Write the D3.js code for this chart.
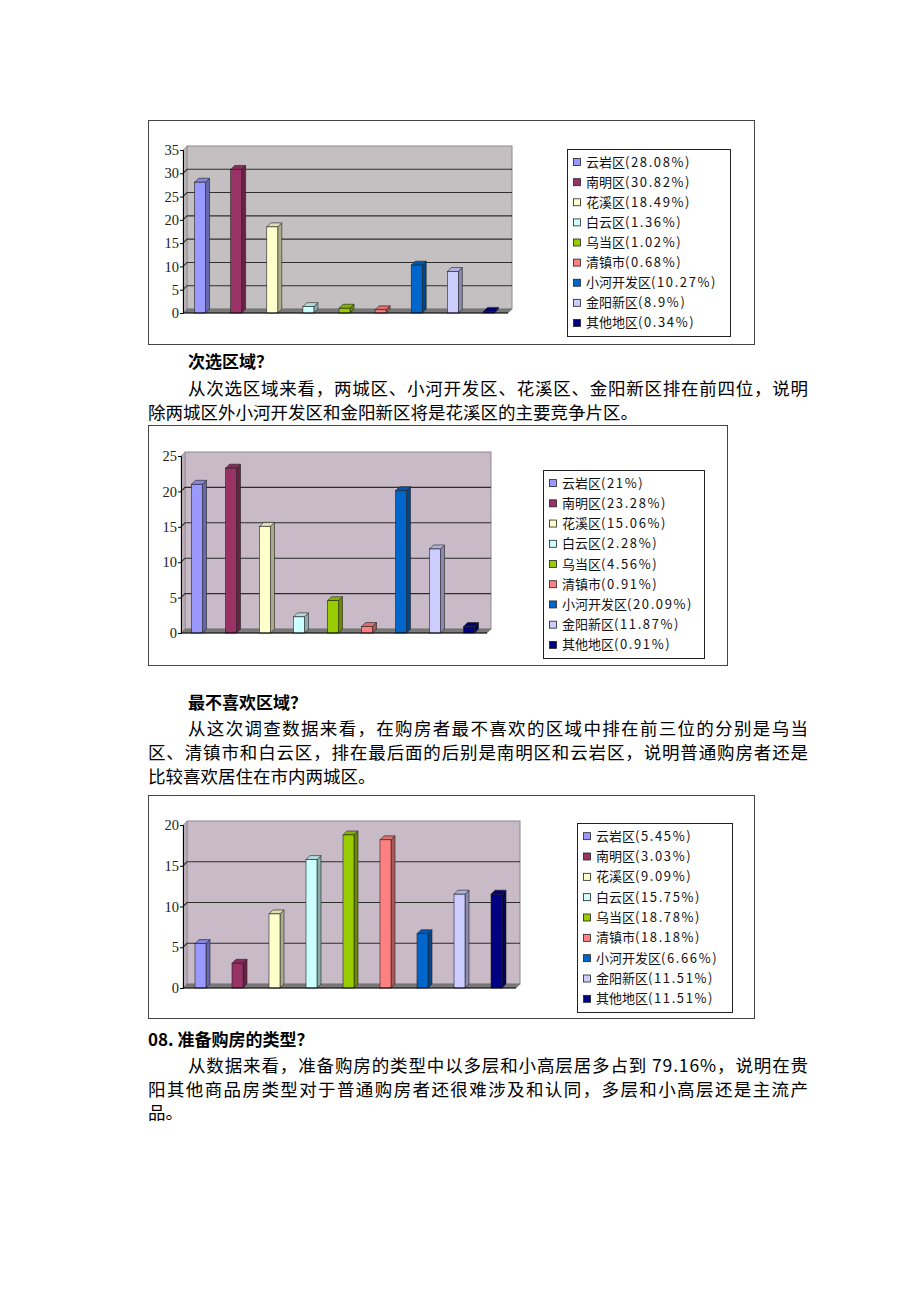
<!DOCTYPE html>
<html>
<head>
<meta charset="utf-8">
<script src="https://cdn.jsdelivr.net/npm/d3@7/dist/d3.min.js"></script>
<style>
  body { margin: 0; background: #fff; }
  svg text { font-family: "Noto Sans CJK SC", sans-serif; }
  .tick text { font-family: "Liberation Serif", serif; font-size: 14.5px; fill: #222; }
</style>
</head>
<body>
<svg id="page" width="920" height="1302"></svg>
<script>
// district names
var districts = ["云岩区", "南明区", "花溪区", "白云区", "乌当区", "清镇市", "小河开发区", "金阳新区", "其他地区"];

// first choice, second choice, least liked (%)
var firstChoice = [28.08, 30.82, 18.49, 1.36, 1.02, 0.68, 10.27, 8.9, 0.34];
var secondChoice = [21, 23.28, 15.06, 2.28, 4.56, 0.91, 20.09, 11.87, 0.91];
var leastLiked = [5.45, 3.03, 9.09, 15.75, 18.78, 18.18, 6.66, 11.51, 11.51];

var firstLabels = ["28.08%", "30.82%", "18.49%", "1.36%", "1.02%", "0.68%", "10.27%", "8.9%", "0.34%"];
var secondLabels = ["21%", "23.28%", "15.06%", "2.28%", "4.56%", "0.91%", "20.09%", "11.87%", "0.91%"];
var leastLabels = ["5.45%", "3.03%", "9.09%", "15.75%", "18.78%", "18.18%", "6.66%", "11.51%", "11.51%"];

var palette = ["#9999ff", "#993366", "#ffffcc", "#ccffff", "#99cc00", "#ff8080", "#0066cc", "#ccccff", "#000080"];

var svg = d3.select("#page");

// draw one excel style 3d column chart
function columnChart(opt, values, labels) {
    var g = svg.append("g");
    var dx = 4, dy = 4;

    // outer frame
    g.append("rect")
        .attr("x", opt.frame[0] + 0.5).attr("y", opt.frame[1] + 0.5)
        .attr("width", opt.frame[2]).attr("height", opt.frame[3])
        .attr("fill", "#fff").attr("stroke", "#444");

    var y = d3.scaleLinear().domain([0, opt.max]).range([opt.y0, opt.yTop]);
    var x = d3.scaleBand().domain(districts).range([opt.x0, opt.right]);

    // back wall
    g.append("rect")
        .attr("x", opt.x0 + dx).attr("y", opt.yTop - dy)
        .attr("width", opt.right - opt.x0).attr("height", opt.y0 - opt.yTop)
        .attr("fill", opt.bg).attr("stroke", "#8a8a8a");

    // left wall
    g.append("path")
        .attr("d", "M" + opt.x0 + "," + opt.y0 + "L" + opt.x0 + "," + opt.yTop +
            "L" + (opt.x0 + dx) + "," + (opt.yTop - dy) + "L" + (opt.x0 + dx) + "," + (opt.y0 - dy) + "Z")
        .attr("fill", d3.color(opt.bg).darker(0.2)).attr("stroke", "#8a8a8a").attr("stroke-width", 0.6);

    // gridlines on the wall
    var ticks = d3.range(opt.step, opt.max, opt.step);
    g.selectAll(".grid").data(ticks).enter().append("path")
        .attr("d", function (d) {
            return "M" + opt.x0 + "," + y(d) + "L" + (opt.x0 + dx) + "," + (y(d) - dy) +
                "L" + (opt.right + dx) + "," + (y(d) - dy);
        })
        .attr("fill", "none").attr("stroke", "#2e2e2e").attr("stroke-width", 1.1);

    // floor
    g.append("path")
        .attr("d", "M" + opt.x0 + "," + opt.y0 + "L" + opt.right + "," + opt.y0 +
            "L" + (opt.right + dx) + "," + (opt.y0 - dy) + "L" + (opt.x0 + dx) + "," + (opt.y0 - dy) + "Z")
        .attr("fill", "#7a7a7a").attr("stroke", "#666").attr("stroke-width", 0.5);

    // bars
    var bw = 11;
    values.forEach(function (v, i) {
        var cx = x(districts[i]) + x.bandwidth() / 2;
        var bx = cx - (bw + dx) / 2 + 1;
        var top = y(v);
        var c = palette[i];
        // side
        g.append("path")
            .attr("d", "M" + (bx + bw) + "," + opt.y0 + "L" + (bx + bw) + "," + top +
                "L" + (bx + bw + dx) + "," + (top - dy) + "L" + (bx + bw + dx) + "," + (opt.y0 - dy) + "Z")
            .attr("fill", d3.color(c).darker(1.1)).attr("stroke", "#222").attr("stroke-width", 0.6);
        // top
        g.append("path")
            .attr("d", "M" + bx + "," + top + "L" + (bx + bw) + "," + top +
                "L" + (bx + bw + dx) + "," + (top - dy) + "L" + (bx + dx) + "," + (top - dy) + "Z")
            .attr("fill", d3.color(c).darker(0.4)).attr("stroke", "#222").attr("stroke-width", 0.6);
        // front
        g.append("rect")
            .attr("x", bx).attr("y", top)
            .attr("width", bw).attr("height", opt.y0 - top)
            .attr("fill", c).attr("stroke", "#222").attr("stroke-width", 0.6);
    });

    // axes
    var axis = g.append("g")
        .attr("transform", "translate(" + opt.x0 + ",0)")
        .call(d3.axisLeft(y).tickValues(d3.range(0, opt.max + 1, opt.step)).tickSize(3).tickPadding(1));
    axis.select(".domain").attr("stroke", "#000");
    axis.selectAll(".tick line").attr("stroke", "#000");
    g.append("line")
        .attr("x1", opt.x0).attr("x2", opt.right)
        .attr("y1", opt.y0).attr("y2", opt.y0)
        .attr("stroke", "#000");

    // legend
    var lg = g.append("g");
    lg.append("rect")
        .attr("x", opt.legend[0] + 0.5).attr("y", opt.legend[1] + 0.5)
        .attr("width", opt.legend[2]).attr("height", opt.legend[3])
        .attr("fill", "#fff").attr("stroke", "#222");
    var rowH = (opt.legend[3] - 6) / districts.length;
    districts.forEach(function (d, i) {
        var ry = opt.legend[1] + 3 + rowH * (i + 0.5);
        lg.append("rect")
            .attr("x", opt.legend[0] + 6.5).attr("y", ry - 3.5)
            .attr("width", 7).attr("height", 7)
            .attr("fill", palette[i]).attr("stroke", "#222").attr("stroke-width", 0.8);
        var t = lg.append("text")
            .attr("x", opt.legend[0] + 19).attr("y", ry + 4.5)
            .attr("font-size", 13).attr("fill", "#111");
        t.append("tspan").text(d);
        t.append("tspan").attr("letter-spacing", 1.6).text("(" + labels[i] + ")");
    });
}

columnChart({ frame: [148, 120, 606, 224], x0: 183, right: 508, y0: 313, yTop: 150, max: 35, step: 5,
    bg: "#c4c0c2", legend: [567, 149, 163, 187] }, firstChoice, firstLabels);
columnChart({ frame: [148, 425, 579, 240], x0: 181, right: 487, y0: 633, yTop: 456, max: 25, step: 5,
    bg: "#c8bac6", legend: [543, 470, 161, 188] }, secondChoice, secondLabels);
columnChart({ frame: [148, 795, 606, 223], x0: 183, right: 516, y0: 988, yTop: 825, max: 20, step: 5,
    bg: "#c8bac6", legend: [577, 823, 155, 189] }, leastLiked, leastLabels);

// body text
var headings = [
    { t: "次选区域？", x: 188, y: 368 },
    { t: "最不喜欢区域？", x: 188, y: 709 },
    { t: "08. 准备购房的类型？", x: 148, y: 1046 }
];
var lines = [
    { t: "从次选区域来看，两城区、小河开发区、花溪区、金阳新区排在前四位，说明", x: 188, y: 395, full: true },
    { t: "除两城区外小河开发区和金阳新区将是花溪区的主要竞争片区。", x: 148, y: 419 },
    { t: "从这次调查数据来看，在购房者最不喜欢的区域中排在前三位的分别是乌当", x: 188, y: 735, full: true },
    { t: "区、清镇市和白云区，排在最后面的后别是南明区和云岩区，说明普通购房者还是", x: 148, y: 759, full: true },
    { t: "比较喜欢居住在市内两城区。", x: 148, y: 783 },
    { t: "从数据来看，准备购房的类型中以多层和小高层居多占到 79.16%，说明在贵", x: 188, y: 1072, full: true },
    { t: "阳其他商品房类型对于普通购房者还很难涉及和认同，多层和小高层还是主流产", x: 148, y: 1096, full: true },
    { t: "品。", x: 148, y: 1119 }
];

svg.selectAll(".head").data(headings).enter().append("text")
    .attr("x", function (d) { return d.x; }).attr("y", function (d) { return d.y; })
    .attr("font-size", 17).attr("font-weight", "bold").attr("fill", "#000")
    .text(function (d) { return d.t; });

lines.forEach(function (d) {
    var t = svg.append("text")
        .attr("x", d.x).attr("y", d.y)
        .attr("font-size", 17.5).attr("fill", "#000")
        .text(d.t);
    if (d.full) t.attr("textLength", 808 - d.x).attr("lengthAdjust", "spacing");
});
</script>
</body>
</html>
